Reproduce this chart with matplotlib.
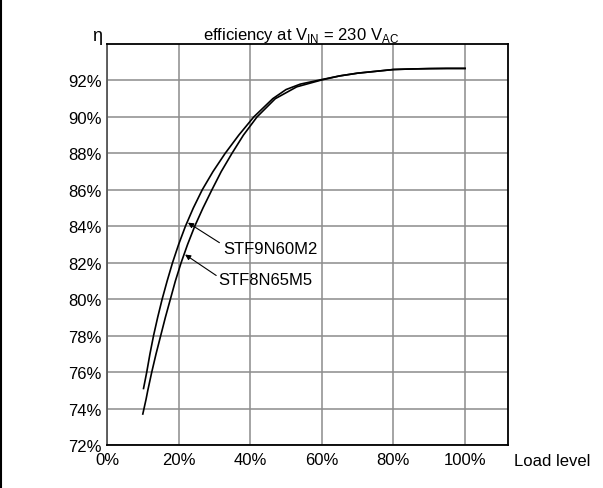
import matplotlib.pyplot as plt
from matplotlib.lines import Line2D

plt.rcParams['font.family'] = ['Liberation Sans', 'DejaVu Sans']
plt.rcParams['mathtext.fontset'] = 'custom'
plt.rcParams['mathtext.rm'] = 'Liberation Sans'

# values (load level %, efficiency %)
load_9n60 = [10.2, 11.1, 12.0, 13.0, 14.15, 15.4, 16.8, 18.3, 20.0, 21.9, 24.1, 26.6, 29.6,
             33.0, 36.8, 41.0, 46.3, 50.0, 54.0, 60, 65, 70, 75, 80, 85, 90, 95, 100]
eff_9n60 = [75.1, 76, 77, 78, 79, 80, 81, 82, 83, 84, 85, 86, 87,
            88, 89, 90, 91, 91.5, 91.8, 92.05, 92.25, 92.4, 92.5, 92.6, 92.63, 92.65, 92.66, 92.66]

load_8n65 = [10, 10.9, 11.4, 12.5, 13.7, 15.0, 16.3, 17.7, 19.1, 20.7, 22.5, 24.5, 26.8, 29.3,
             31.9, 34.9, 38.1, 41.9, 47, 53, 60, 65, 70, 75, 80, 85, 90, 95, 100]
eff_8n65 = [73.7, 74.5, 75, 76, 77, 78, 79, 80, 81, 82, 83, 84, 85, 86,
            87, 88, 89, 90, 91, 91.65, 92.03, 92.25, 92.4, 92.5, 92.6, 92.63, 92.65, 92.66, 92.66]

x_ticks = [0, 20, 40, 60, 80, 100]
y_ticks = [72, 74, 76, 78, 80, 82, 84, 86, 88, 90, 92]

fig = plt.figure(figsize=(6.03, 4.89), dpi=100)
ax = fig.add_axes([107 / 603, 1 - 446 / 489, 401 / 603, 401 / 489])

ax.plot(load_9n60, eff_9n60, color='black', lw=1.2)
ax.plot(load_8n65, eff_8n65, color='black', lw=1.2)

ax.set_xlim(0, 112)
ax.set_ylim(72, 94)
ax.set_xticks(x_ticks)
ax.set_yticks(y_ticks)
ax.set_xticklabels([f"{v}%" for v in x_ticks])
ax.set_yticklabels([f"{v}%" for v in y_ticks])
ax.tick_params(length=0, labelsize=12)
ax.tick_params(axis='x', pad=5)
ax.tick_params(axis='y', pad=4)
for lbl in ax.get_yticklabels():
    lbl.set_va('center_baseline')
ax.grid(True, color='#8c8c8c', lw=1.1)
ax.set_axisbelow(True)

for s in ['top', 'right', 'bottom']:
    ax.spines[s].set_color('black')
    ax.spines[s].set_linewidth(1.3)
ax.spines['left'].set_color('#555555')
ax.spines['left'].set_linewidth(1.3)

ax.set_title(r'efficiency at V$_{\mathrm{IN}}$ = 230 V$_{\mathrm{AC}}$', fontsize=12, pad=2, x=0.485)
ax.text(-0.025, 1.0, 'η', transform=ax.transAxes, ha='center', va='bottom', fontsize=13)
ax.text(1.015, -0.019, 'Load level', transform=ax.transAxes, ha='left', va='top', fontsize=12)

# curve labels with arrows
arrow = dict(arrowstyle='-|>', color='black', lw=0.8, mutation_scale=8, shrinkA=0, shrinkB=0)
ax.annotate('', xy=(22.6, 84.2), xytext=(31.4, 83.1), arrowprops=arrow)
ax.text(32.4, 82.8, 'STF9N60M2', fontsize=12, ha='left', va='center')
ax.annotate('', xy=(21.8, 82.45), xytext=(30.5, 81.3), arrowprops=arrow)
ax.text(31.2, 81.1, 'STF8N65M5', fontsize=12, ha='left', va='center')

fig.add_artist(Line2D([0.001, 0.001], [0, 1], color='black', lw=1.5, transform=fig.transFigure))

fig.savefig('out.png', dpi=100)
